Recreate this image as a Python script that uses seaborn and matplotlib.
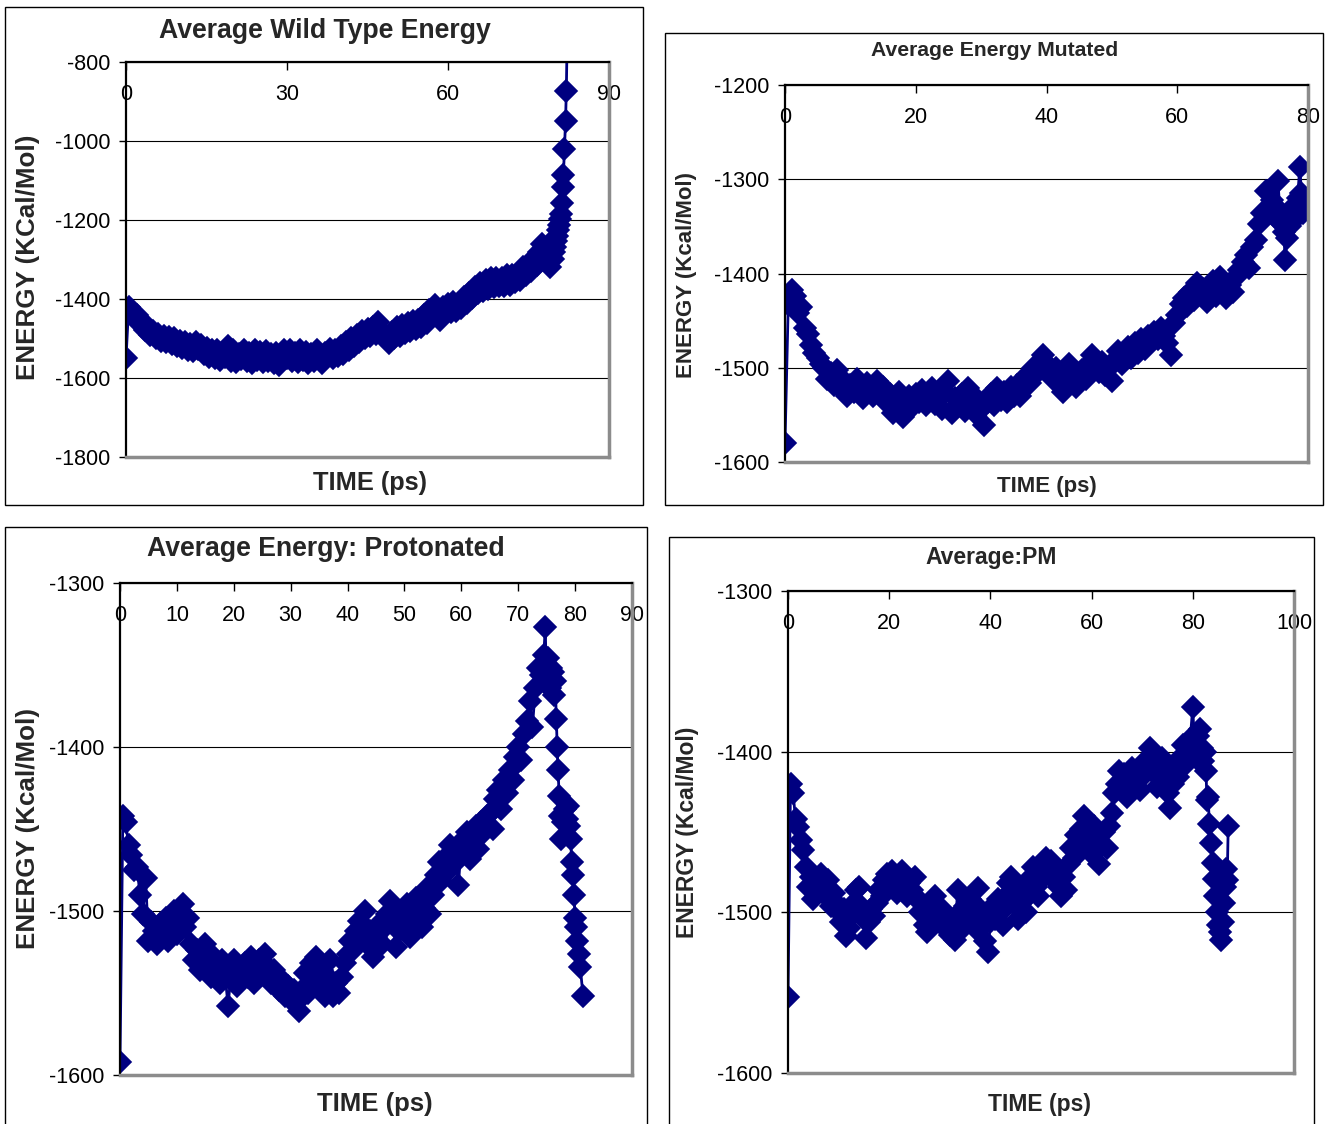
import numpy as np
import pandas as pd
import matplotlib
matplotlib.use("Agg")
import matplotlib.pyplot as plt
import seaborn as sns
from matplotlib.patches import Rectangle

sns.set_style("white")
plt.rcParams["font.family"] = ["Liberation Sans", "DejaVu Sans"]

NAVY = "#000080"
STEP = 0.5  # ps between samples of the main block

# ---------------- data ----------------
wt_main = [
    -1550, -1420, -1432, -1446, -1440, -1462, -1456, -1478, -1470, -1490,
    -1482, -1500, -1488, -1506, -1494, -1510, -1496, -1514, -1500, -1520,
    -1506, -1524, -1510, -1528, -1514, -1532, -1508, -1526, -1516, -1538,
    -1524, -1546, -1530, -1550, -1528, -1554, -1534, -1548, -1520, -1556,
    -1530, -1560, -1538, -1552, -1528, -1558, -1536, -1562, -1530, -1554,
    -1534, -1560, -1532, -1556, -1540, -1562, -1536, -1568, -1548, -1528,
    -1550, -1530, -1556, -1536, -1560, -1530, -1554, -1534, -1562, -1538,
    -1556, -1530, -1552, -1562, -1536, -1548, -1526, -1550, -1528, -1544,
    -1518, -1538, -1510, -1530, -1500, -1520, -1492, -1508, -1480, -1500,
    -1476, -1494, -1470, -1488, -1458, -1480, -1490, -1500, -1512, -1484,
    -1500, -1472, -1494, -1466, -1486, -1460, -1482, -1456, -1476, -1452,
    -1470, -1440, -1460, -1428, -1440, -1416, -1444, -1452, -1420, -1434,
    -1412, -1432, -1408, -1430, -1418, -1424, -1396, -1410, -1386, -1398,
    -1370, -1386, -1360, -1380, -1352, -1374, -1348, -1370, -1346, -1366,
    -1346, -1368, -1340, -1364, -1338, -1358, -1334, -1352, -1320, -1340,
    -1312, -1330, -1296, -1314, -1280, -1262, -1276, -1296, -1318, -1300,
]
wt_tail_t = [79.7, 79.9, 80.1, 80.3, 80.5, 80.7, 80.9, 81.05, 81.2, 81.35,
             81.5, 81.7, 81.9, 82.05, 82.3]
wt_tail_e = [-1282, -1268, -1252, -1240, -1226, -1212, -1198, -1185, -1156, -1116,
             -1086, -1021, -949, -873, -650]

mut_main = [
    -1580, -1432, -1418, -1424, -1442, -1436, -1458, -1464, -1476, -1484,
    -1490, -1496, -1500, -1512, -1506, -1518, -1502, -1522, -1514, -1530,
    -1518, -1526, -1512, -1520, -1532, -1516, -1524, -1530, -1514, -1526,
    -1520, -1536, -1528, -1548, -1534, -1526, -1552, -1538, -1530, -1542,
    -1528, -1536, -1524, -1540, -1530, -1522, -1538, -1528, -1544, -1526,
    -1514, -1548, -1532, -1540, -1528, -1546, -1522, -1538, -1548, -1534,
    -1544, -1561, -1536, -1528, -1540, -1522, -1534, -1526, -1536, -1520,
    -1530, -1518, -1530, -1512, -1508, -1516, -1500, -1506, -1494, -1486,
    -1496, -1504, -1512, -1500, -1518, -1526, -1510, -1496, -1506, -1520,
    -1510, -1502, -1512, -1496, -1486, -1498, -1504, -1494, -1508, -1500,
    -1514, -1492, -1482, -1496, -1486, -1478, -1490, -1474, -1484, -1470,
    -1480, -1466, -1472, -1462, -1470, -1458, -1466, -1474, -1486, -1452,
    -1444, -1432, -1426, -1434, -1420, -1428, -1410, -1422, -1416, -1430,
    -1418, -1408, -1424, -1404, -1416, -1426, -1412, -1420, -1404, -1396,
    -1388, -1380, -1394, -1372, -1364, -1348, -1336, -1312, -1330, -1322,
]
mut_tail_t = [75.0, 75.4, 75.7, 76.0, 76.3, 76.5, 76.8, 77.2, 77.6, 78.0,
              78.4, 78.75, 79.0, 79.3, 79.6]
mut_tail_e = [-1340, -1302, -1334, -1348, -1356, -1386, -1362, -1350, -1330, -1342,
              -1320, -1287, -1315, -1336, -1330]

prot_main = [
    -1592, -1442, -1446, -1460, -1466, -1475, -1473, -1490, -1502, -1480,
    -1518, -1507, -1512, -1520, -1508, -1516, -1504, -1518, -1510, -1500,
    -1514, -1506, -1496, -1510, -1504, -1520, -1530, -1524, -1536, -1528,
    -1520, -1534, -1540, -1528, -1536, -1544, -1530, -1540, -1558, -1538,
    -1530, -1546, -1536, -1542, -1532, -1540, -1528, -1544, -1536, -1530,
    -1538, -1526, -1534, -1544, -1536, -1540, -1548, -1542, -1552, -1546,
    -1554, -1548, -1556, -1561, -1548, -1538, -1550, -1532, -1542, -1528,
    -1546, -1536, -1552, -1540, -1530, -1552, -1544, -1550, -1540, -1532,
    -1526, -1518, -1524, -1512, -1506, -1514, -1500, -1520, -1512, -1528,
    -1516, -1508, -1520, -1510, -1502, -1494, -1506, -1522, -1512, -1500,
    -1508, -1496, -1516, -1504, -1492, -1500, -1510, -1498, -1486, -1502,
    -1490, -1478, -1470, -1482, -1468, -1476, -1460, -1472, -1466, -1484,
    -1458, -1462, -1452, -1468, -1458, -1448, -1462, -1446, -1452, -1442,
    -1440, -1450, -1432, -1426, -1438, -1420, -1428, -1414, -1420, -1406,
    -1400, -1408, -1392, -1384, -1372, -1388, -1364, -1352, -1356, -1344,
]
prot_tail_t = [74.75, 74.9, 75.1, 75.3, 75.5, 75.7, 75.9, 76.1, 76.3, 76.5,
               76.7, 76.85, 77.0, 77.2, 77.4, 77.6, 77.9, 78.2, 78.5, 78.8,
               79.0, 79.2, 79.4, 79.6, 79.8, 80.0, 80.15, 80.3, 80.6, 80.9, 81.4]
prot_tail_e = [-1327, -1350, -1358, -1346, -1364, -1352, -1360, -1354, -1368, -1360,
               -1383, -1400, -1414, -1430, -1442, -1456, -1446, -1438, -1444, -1436,
               -1448, -1456, -1470, -1478, -1490, -1504, -1510, -1518, -1526, -1534, -1552]

pm_main = [
    -1553, -1420, -1426, -1442, -1447, -1455, -1461, -1472, -1484, -1478,
    -1492, -1480, -1488, -1476, -1484, -1490, -1480, -1496, -1488, -1494,
    -1500, -1506, -1498, -1515, -1510, -1502, -1494, -1486, -1484, -1496,
    -1504, -1516, -1506, -1498, -1502, -1494, -1486, -1490, -1480, -1476,
    -1482, -1474, -1478, -1488, -1480, -1474, -1484, -1490, -1482, -1486,
    -1478, -1492, -1500, -1494, -1508, -1512, -1496, -1504, -1490, -1500,
    -1506, -1498, -1510, -1502, -1514, -1508, -1517, -1486, -1500, -1510,
    -1496, -1504, -1492, -1500, -1510, -1485, -1498, -1508, -1518, -1525,
    -1506, -1496, -1504, -1492, -1500, -1508, -1490, -1482, -1478, -1494,
    -1486, -1504, -1494, -1484, -1500, -1490, -1478, -1472, -1484, -1490,
    -1480, -1470, -1466, -1476, -1468, -1480, -1472, -1484, -1490, -1478,
    -1486, -1470, -1460, -1466, -1452, -1460, -1448, -1440, -1452, -1462,
    -1456, -1446, -1460, -1470, -1458, -1450, -1460, -1446, -1438, -1426,
    -1420, -1412, -1422, -1414, -1428, -1418, -1410, -1420, -1414, -1424,
    -1416, -1406, -1412, -1398, -1404, -1414, -1422, -1410, -1404, -1416,
    -1426, -1435, -1420, -1410, -1416, -1404, -1396, -1408, -1400, -1392,
]
pm_tail_t = [80.0, 80.3, 80.7, 81.0, 81.5, 81.8, 82.1, 82.4, 82.6, 82.8,
             83.0, 83.3, 83.6, 83.9, 84.1, 84.4, 84.7, 85.0, 85.3, 85.6,
             85.9, 86.2, 86.4, 86.6, 86.8, 87.0]
pm_tail_e = [-1372, -1396, -1404, -1390, -1386, -1398, -1406, -1400, -1412, -1430,
             -1428, -1445, -1457, -1469, -1479, -1490, -1500, -1508, -1512, -1517,
             -1506, -1494, -1484, -1473, -1480, -1446]


def series(main, tail_t, tail_e):
    t = np.concatenate([np.arange(len(main)) * STEP, np.asarray(tail_t, float)])
    e = np.concatenate([np.asarray(main, float), np.asarray(tail_e, float)])
    return pd.DataFrame({"time": t, "energy": e})


W, H = 1328, 1124
fig = plt.figure(figsize=(W / 100, H / 100), dpi=100)

panels = [
    dict(df=series(wt_main, wt_tail_t, wt_tail_e), area=(126, 62, 609, 457),
         box=(5, 7, 643, 505), xlim=(0, 90), xt=[0, 30, 60, 90],
         ylim=(-1800, -800), yt=[-1800, -1600, -1400, -1200, -1000, -800],
         title="Average Wild Type Energy", tfs=19.2, tpos=(0.412, 1.0785),
         ylab="ENERGY (KCal/Mol)", yfs=18.7, ypos=(-0.203, 0.506),
         xfs=18.3, xpos=(0.505, -0.0658)),
    dict(df=series(mut_main, mut_tail_t, mut_tail_e), area=(785, 85, 1308, 462),
         box=(665, 33, 1323, 505), xlim=(0, 80), xt=[0, 20, 40, 60, 80],
         ylim=(-1600, -1200), yt=[-1600, -1500, -1400, -1300, -1200],
         title="Average Energy Mutated", tfs=15.2, tpos=(0.4015, 1.0928),
         ylab="ENERGY (Kcal/Mol)", yfs=16, ypos=(-0.189, 0.496),
         xfs=16, xpos=(0.501, -0.0637)),
    dict(df=series(prot_main, prot_tail_t, prot_tail_e), area=(120, 583, 632, 1075),
         box=(5, 527, 647, 1130), xlim=(0, 90), xt=list(range(0, 91, 10)),
         ylim=(-1600, -1300), yt=[-1600, -1500, -1400, -1300],
         title="Average Energy: Protonated", tfs=19.2, tpos=(0.402, 1.069),
         ylab="ENERGY (Kcal/Mol)", yfs=18.7, ypos=(-0.18, 0.502),
         xfs=18.5, xpos=(0.498, -0.059)),
    dict(df=series(pm_main, pm_tail_t, pm_tail_e), area=(788, 591, 1294, 1073),
         box=(669, 537, 1314, 1130), xlim=(0, 100), xt=[0, 20, 40, 60, 80, 100],
         ylim=(-1600, -1300), yt=[-1600, -1500, -1400, -1300],
         title="Average:PM", tfs=16.5, tpos=(0.401, 1.0705),
         ylab="ENERGY (Kcal/Mol)", yfs=16.5, ypos=(-0.198, 0.5),
         xfs=16.5, xpos=(0.498, -0.066)),
]

for p in panels:
    bl, bt, br, bb = p["box"]
    fig.add_artist(Rectangle((bl / W, 1 - bb / H), (br - bl) / W, (bb - bt) / H,
                             transform=fig.transFigure, fill=False,
                             edgecolor="black", linewidth=1.0))
    l, t, r, b = p["area"]
    ax = fig.add_axes([l / W, 1 - b / H, (r - l) / W, (b - t) / H])
    sns.lineplot(data=p["df"], x="time", y="energy", ax=ax, sort=False,
                 estimator=None, color=NAVY, linewidth=2.0, marker="D",
                 markersize=11, markeredgecolor=NAVY, markeredgewidth=1.2)
    ax.set_xlim(*p["xlim"])
    ax.set_ylim(*p["ylim"])
    ax.set_xticks(p["xt"])
    ax.set_yticks(p["yt"])
    ax.set_xticklabels([str(v) for v in p["xt"]])
    ax.set_yticklabels([str(v) for v in p["yt"]])
    ax.xaxis.tick_top()
    ax.tick_params(axis="x", direction="in", length=6, width=1, pad=-31,
                   labelsize=15.5, colors="black", top=True, bottom=False,
                   labeltop=True, labelbottom=False)
    ax.tick_params(axis="y", direction="out", length=5, width=1, pad=6,
                   labelsize=15.5, colors="black", left=True)
    ax.grid(axis="y", color="black", linewidth=0.8)
    ax.grid(axis="x", visible=False)
    for side in ("top", "left"):
        ax.spines[side].set_color("black")
        ax.spines[side].set_linewidth(1.6)
    for side in ("right", "bottom"):
        ax.spines[side].set_color("#8c8c8c")
        ax.spines[side].set_linewidth(2.5)

    ax.set_title(p["title"], fontsize=p["tfs"], fontweight="bold",
                 x=p["tpos"][0], y=p["tpos"][1], pad=0, va="center")
    ax.set_xlabel("TIME (ps)", fontsize=p["xfs"], fontweight="bold")
    ax.xaxis.set_label_coords(*p["xpos"])
    ax.xaxis.label.set_va("center")
    ax.set_ylabel(p["ylab"], fontsize=p["yfs"], fontweight="bold")
    ax.yaxis.set_label_coords(*p["ypos"])
    ax.yaxis.label.set_va("center")

fig.savefig("out.png", dpi=100)
